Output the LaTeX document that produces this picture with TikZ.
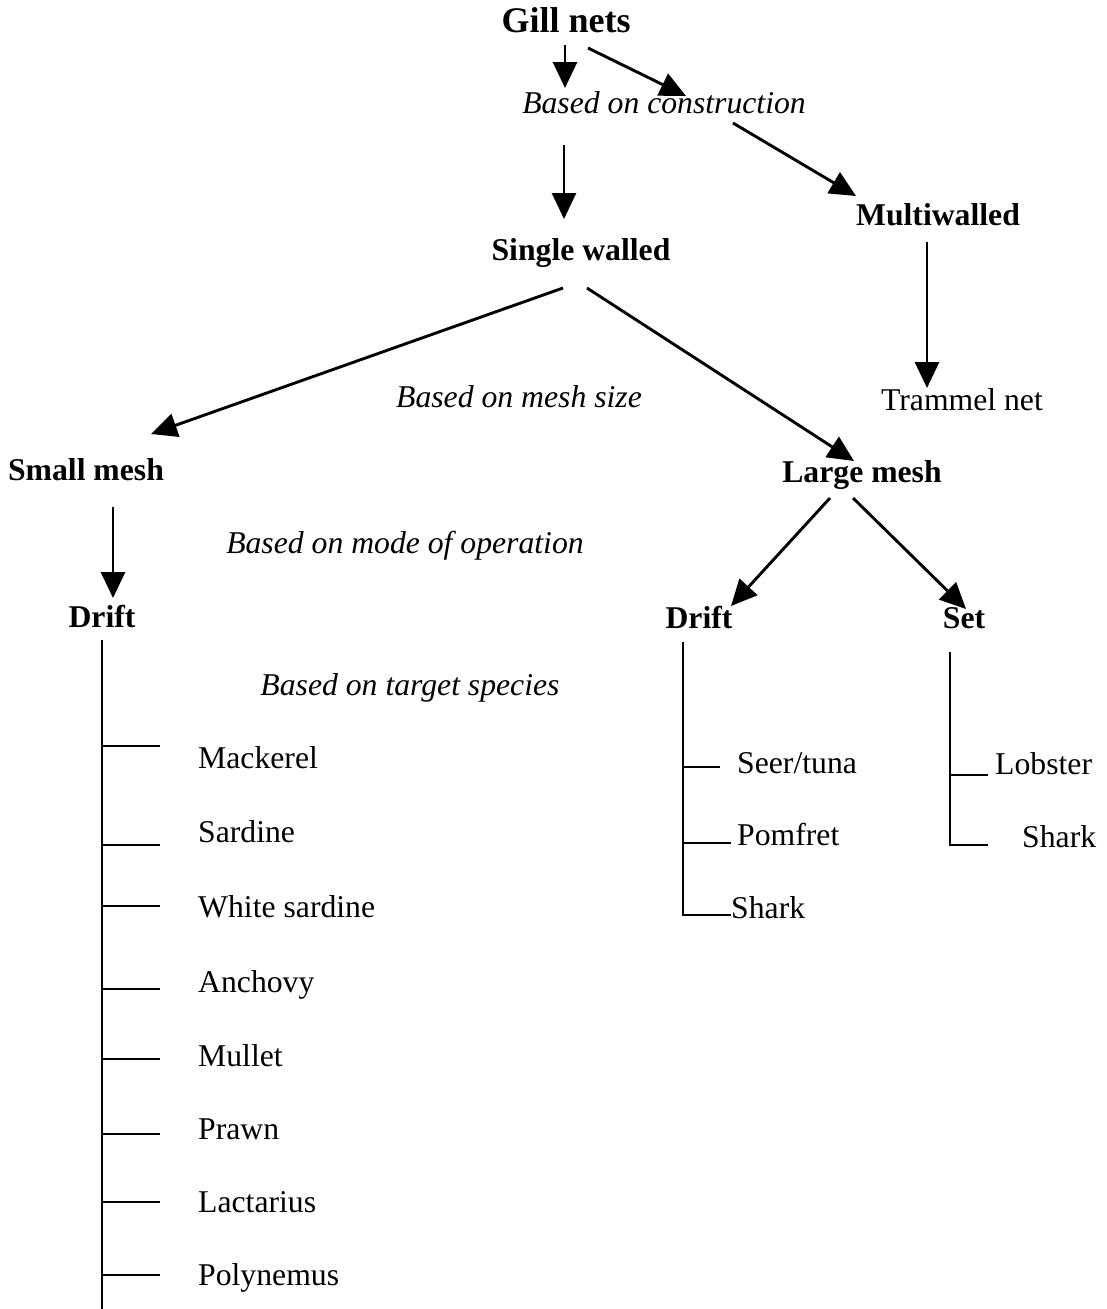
\documentclass[tikz,border=0pt]{standalone}
\usepackage{fontspec}
\setmainfont{Liberation Serif}
\usetikzlibrary{arrows.meta}
\begin{document}
\begin{tikzpicture}[x=1pt,y=-1pt,
  txt/.style={inner sep=0pt,font=\fontsize{31.7}{38}\selectfont},
  hd/.style={txt,font=\fontsize{31.7}{38}\selectfont\bfseries},
  it/.style={txt,font=\fontsize{31.7}{38}\selectfont\itshape},
  arr/.style={line width=2.9pt,-{Triangle[length=26pt,width=24pt]}},
  ln/.style={line width=2.9pt}]
\useasboundingbox (0,0) rectangle (1107,1309);
% headings
\node[txt,anchor=base,font=\fontsize{36}{42}\selectfont\bfseries] (gill) at (566,32) {Gill nets};
\node[it,anchor=base] (bcons) at (664,113) {Based on construction};
\node[hd,anchor=base] (multi) at (938,225) {Multiwalled};
\node[hd,anchor=base] (single) at (581,260) {Single walled};
\node[it,anchor=base] (bmesh) at (519,407) {Based on mesh size};
\node[txt,anchor=base] (tram) at (962,410) {Trammel net};
\node[hd,anchor=base] (small) at (86,480) {Small mesh};
\node[hd,anchor=base] (large) at (862,482) {Large mesh};
\node[it,anchor=base] (bmode) at (405,553) {Based on mode of operation};
\node[hd,anchor=base] (driftL) at (102,627) {Drift};
\node[hd,anchor=base] (driftR) at (699,628) {Drift};
\node[hd,anchor=base] (set) at (964,628) {Set};
\node[it,anchor=base] (btarget) at (410,695) {Based on target species};
% left species list
\node[txt,anchor=base west] (mack) at (198,768) {Mackerel};
\node[txt,anchor=base west] (sard) at (198,842) {Sardine};
\node[txt,anchor=base west] (wsard) at (198,917) {White sardine};
\node[txt,anchor=base west] (anch) at (198,992) {Anchovy};
\node[txt,anchor=base west] (mull) at (198,1066) {Mullet};
\node[txt,anchor=base west] (prawn) at (198,1139) {Prawn};
\node[txt,anchor=base west] (lact) at (198,1212) {Lactarius};
\node[txt,anchor=base west] (poly) at (198,1285) {Polynemus};
% right drift list
\node[txt,anchor=base west] (seer) at (737,773) {Seer/tuna};
\node[txt,anchor=base west] (pomf) at (737,845) {Pomfret};
\node[txt,anchor=base west] (sharkD) at (731,918) {Shark};
% set list
\node[txt,anchor=base west] (lob) at (995,774) {Lobster};
\node[txt,anchor=base west] (sharkS) at (1022,847) {Shark};
% arrow end points
\coordinate (g1) at (565,45); \coordinate (g1e) at (565,88);
\coordinate (g2) at (588,48); \coordinate (g2e) at (686,96);
\coordinate (c2) at (733,123); \coordinate (c2e) at (856,196);
\coordinate (s0) at (564,145); \coordinate (s0e) at (564,219);
\coordinate (sl) at (563,288); \coordinate (sle) at (151,434);
\coordinate (sr) at (587,288); \coordinate (sre) at (854,461);
\coordinate (m0) at (927,242); \coordinate (m0e) at (927,388);
\coordinate (sm0) at (113,507); \coordinate (sm0e) at (113,598);
\coordinate (ld) at (830,498); \coordinate (lde) at (731,606);
\coordinate (ls) at (853,498); \coordinate (lse) at (966,609);
\draw[arr] (g1) -- (g1e);
\draw[arr] (g2) -- (g2e);
\draw[arr] (c2) -- (c2e);
\draw[arr] (s0) -- (s0e);
\draw[arr] (sl) -- (sle);
\draw[arr] (sr) -- (sre);
\draw[arr] (m0) -- (m0e);
\draw[arr] (sm0) -- (sm0e);
\draw[arr] (ld) -- (lde);
\draw[arr] (ls) -- (lse);
% left tree
\coordinate (lt) at (102,640); \coordinate (lb) at (102,1309);
\draw[ln] (lt) -- (lb);
\foreach \y/\n in {746/a,845/b,906/c,989/d,1059/e,1134/f,1202/g,1275/h}{
  \coordinate (tk\n) at (102,\y); \coordinate (tke\n) at (160,\y);
  \draw[ln] (tk\n) -- (tke\n);}
% right drift tree
\coordinate (dt) at (683,642); \coordinate (db) at (683,915);
\coordinate (d1) at (683,767); \coordinate (d1e) at (720,767);
\coordinate (d2) at (683,843); \coordinate (d2e) at (731,843);
\coordinate (d3e) at (731,915);
\draw[ln] (dt) -- (db) -- (d3e);
\draw[ln] (d1) -- (d1e);
\draw[ln] (d2) -- (d2e);
% set tree
\coordinate (st) at (950,652); \coordinate (sb) at (950,845);
\coordinate (s1) at (950,775); \coordinate (s1e) at (988,775);
\coordinate (s2e) at (988,845);
\draw[ln] (st) -- (sb) -- (s2e);
\draw[ln] (s1) -- (s1e);
\end{tikzpicture}
\end{document}
